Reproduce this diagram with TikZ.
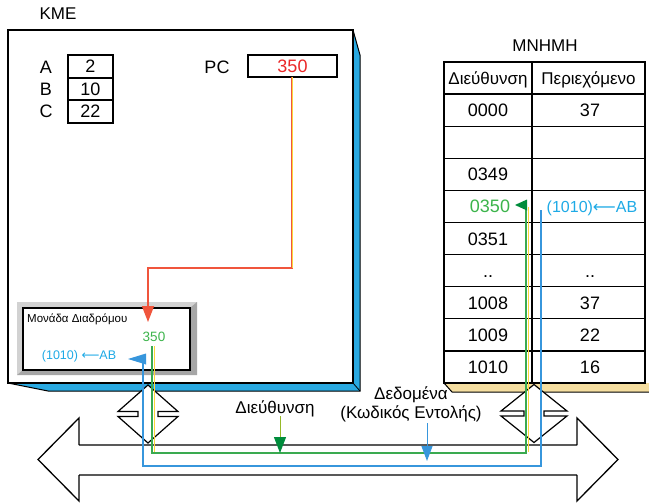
\documentclass[tikz,border=0pt]{standalone}
\usepackage{fontspec}
\setmainfont{Liberation Sans}
\newfontfamily\arrfont{DejaVu Sans}
\usetikzlibrary{arrows.meta}
\definecolor{cpublue}{RGB}{41,169,225}
\definecolor{memyel}{RGB}{245,222,160}
\definecolor{busgreen}{RGB}{58,170,80}
\definecolor{darkgreen}{RGB}{0,140,60}
\definecolor{txtgreen}{RGB}{60,180,75}
\definecolor{busblue}{RGB}{55,150,220}
\definecolor{txtblue}{RGB}{30,170,230}
\definecolor{pcred}{RGB}{235,40,40}
\definecolor{linered}{RGB}{240,85,60}
\definecolor{lineyel}{RGB}{250,215,60}
\definecolor{olive}{RGB}{150,185,40}
\newcommand{\larr}{{\arrfont\char"27F5}}
\begin{document}
\begin{tikzpicture}[x=1pt,y=-1pt,
  every node/.style={inner sep=0pt, font=\fontsize{18}{21}\selectfont, text height=12.9pt, text depth=0pt},
  lbl/.style={font=\fontsize{17}{20}\selectfont, text height=12.2pt},
  frame/.style={draw=black, line width=1.3pt},
  grid/.style={draw=black, line width=1.3pt},
  small/.style={font=\fontsize{11.5}{13}\selectfont, text height=8.3pt},
  mid/.style={font=\fontsize{13.5}{15}\selectfont, text height=9.7pt},
  gline/.style={busgreen, line width=1.3pt},
  bline/.style={busblue, line width=1.3pt},
  yline/.style={lineyel, line width=0.7pt},
  pics/dconn/.style={code={
    \draw[black, line width=1.2pt, fill=white] (0,-29) -- (-#1,-2.5) -- (-10,-2.5) -- (-10,2.5) -- (-#1,2.5)
      -- (0,29) -- (#1,2.5) -- (10,2.5) -- (10,-2.5) -- (#1,-2.5) -- cycle;}}
]
\useasboundingbox (0,0) rectangle (649,504);

% ---------- CPU ----------
\node[lbl] (kme) at (58,13) {KME};
\fill[cpublue] (353,30) -- (360,55) -- (360,391) -- (353,383) -- cycle;
\fill[cpublue] (8,383) -- (48,391) -- (360,391) -- (353,383) -- cycle;
\draw[frame, fill=white] (8,30) rectangle (353,383);
\draw[black, line width=1pt] (353,30) -- (360,55) -- (360,391) -- (48,391) -- (8,383);
\draw[black, line width=0.8pt] (353,383) -- (360,391);

% registers
\node (la) at (46,67) {A};
\node (lb) at (46,89) {B};
\node (lc) at (46,111) {C};
\draw[grid] (68,55) rectangle (113,123);
\draw[grid] (68,78) -- (113,78) (68,100) -- (113,100);
\node (ra) at (90.5,66.5) {2};
\node (rb) at (90.5,89) {10};
\node (rc) at (90.5,111.5) {22};

\node (pclbl) at (217,67) {PC};
\draw[grid] (248,55) rectangle (337,77);
\node[pcred] (pcval) at (292.5,66) {350};
\coordinate (pcbot) at (292,77);

% routing unit
\fill[gray!35] (17,302) rectangle (197,375);
\fill[gray!70] (197,302) -- (197,375) -- (17,375) -- (23,370) -- (190,370) -- (190,308) -- cycle;
\draw[frame, fill=white, line width=1.5pt] (23,308) rectangle (190,370);
\node[small, anchor=west] (mdlbl) at (27,318) {Μονάδα Διαδρόμου};
\node[mid, txtgreen] (r350) at (154,337) {350};
\node[txtblue, font=\fontsize{12.5}{14}\selectfont, text height=9pt] (rab) at (79,355) {(1010) \larr AB};

% ---------- Memory ----------
\node[lbl] (mem) at (545,45) {MNHMH};
\fill[memyel] (444,383) -- (452,392) -- (649,392) -- (649,383) -- cycle;
\draw[black, line width=1pt] (444,383) -- (452,392) -- (649,392);
\draw[grid, fill=white] (444,62) rectangle (645,383);
\draw[grid] (532,62) -- (532,383);
\foreach \i in {1,...,9} { \draw[grid] (444,62+32.1*\i) -- (645,62+32.1*\i); }
\node[lbl] (h1) at (488,78) {Διεύθυνση};
\node[lbl] (h2) at (588.5,78) {Περιεχόμενο};
\node (a0) at (488,110.2) {0000};   \node (v0) at (590,110.2) {37};
\node (a349) at (488,174.4) {0349};
\node[txtgreen] (a350) at (490,206.5) {0350};
\node[txtblue, font=\fontsize{16}{19}\selectfont, text height=11.5pt] (v350) at (592,206.5) {(1010)\larr AB};
\node (a351) at (488,238.6) {0351};
\node (adots) at (488,270.7) {..};   \node (vdots) at (590,270.7) {..};
\node (a1008) at (488,302.8) {1008}; \node (v1008) at (590,302.8) {37};
\node (a1009) at (488,334.9) {1009}; \node (v1009) at (590,334.9) {22};
\node (a1010) at (488,367) {1010};   \node (v1010) at (590,367) {16};

% ---------- Bus ----------
\draw[black, line width=1.3pt] (79,445) -- (79,418) -- (38,459.5) -- (79,501) -- (79,475)
  (577,445) -- (577,418) -- (618,459.5) -- (577,501) -- (577,475)
  (79,445) -- (577,445) (79,475) -- (577,475);
\pic at (148,414) {dconn=30};
\pic at (534,413.5) {dconn=33};

% ---------- connectors ----------
% red: PC -> routing unit
\coordinate (rc1) at (292,268);
\coordinate (rc2) at (148,268);
\coordinate (rtip) at (148,322);
\draw[linered, line width=1.5pt, -{Triangle[length=16pt,width=12pt]}] (pcbot) -- (rc1) -- (rc2) -- (rtip);
\draw[lineyel, line width=0.4pt] (pcbot) -- (rc1);

% green: address path routing unit -> memory 0350
\coordinate (g0) at (152,346);
\coordinate (g1) at (152,453);
\coordinate (g2) at (526,453);
\coordinate (g3) at (526,205);
\draw[yline] (154,346) -- (154,451.5);
\draw[yline] (528,451.5) -- (528,207);
\draw[gline] (g0) -- (g1) -- (g2) -- (g3);
\fill[darkgreen] (g3) -- ++(-11,0) -- ++(12,-5.5) -- ++(0,11) -- ++(-12,-5.5) -- cycle;

% blue: data path memory -> routing unit
\coordinate (b0) at (541,210);
\coordinate (b1) at (541,466);
\coordinate (b2) at (143,466);
\coordinate (b3) at (143,359);
\draw[bline] (b0) -- (b1) -- (b2) -- (b3);
\coordinate (bflag) at (128,359);
\fill[busblue] (bflag) -- (146,353.5) -- (146,364.5) -- cycle;

% bus labels
\node[lbl] (addrlbl) at (275,407) {Διεύθυνση};
\node[lbl] (datalbl) at (411,393) {Δεδομένα};
\node[lbl] (codelbl) at (411,412) {(Κωδικός Εντολής)};
\coordinate (ga) at (280,416);
\coordinate (gb) at (280,453);
\draw[olive, line width=1pt, -{Triangle[length=16pt,width=12pt, fill=darkgreen, color=darkgreen]}] (ga) -- (gb);
\coordinate (ba) at (427,423);
\coordinate (bb) at (427,461);
\draw[busblue, line width=1pt, -{Triangle[length=15pt,width=11pt]}] (ba) -- (bb);
\end{tikzpicture}
\end{document}
